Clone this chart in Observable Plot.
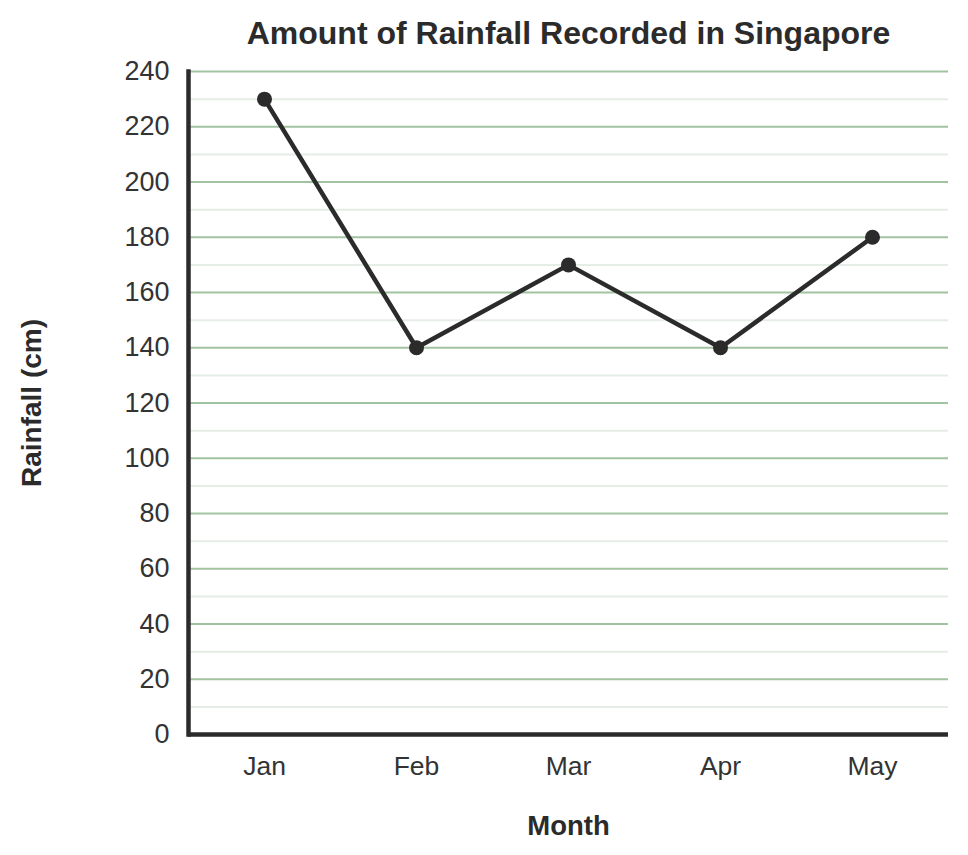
<!DOCTYPE html>
<html>
<head>
<meta charset="utf-8">
<script src="https://cdn.jsdelivr.net/npm/d3@7"></script>
<script src="https://cdn.jsdelivr.net/npm/@observablehq/plot@0.6"></script>
<style>
  html, body { margin: 0; padding: 0; background: #fff; }
  #chart svg { display: block; }
</style>
</head>
<body>
<div id="chart"></div>
<script>
const titleText = "Amount of Rainfall Recorded in Singapore";
const xLabel = "Month";
const yLabel = "Rainfall (cm)";
const months = ["Jan", "Feb", "Mar", "Apr", "May"];
const rainfall = [230, 140, 170, 140, 180];
const majorTicks = [0, 20, 40, 60, 80, 100, 120, 140, 160, 180, 200, 220, 240];
const minorTicks = [10, 30, 50, 70, 90, 110, 130, 150, 170, 190, 210, 230];

const data = months.map((m, i) => ({month: m, value: rainfall[i]}));
const ink = "#2b2b2b";
const font = "'Liberation Sans', Arial, sans-serif";

const chart = Plot.plot({
  width: 968,
  height: 855,
  marginLeft: 188,
  marginRight: 20,
  marginTop: 71,
  marginBottom: 121,
  style: {fontFamily: font, color: "#333", background: "#fff"},
  x: {type: "point", domain: months, padding: 0.5},
  y: {domain: [0, 240]},
  marks: [
    Plot.ruleY(minorTicks, {stroke: "#e6ede6", strokeWidth: 2}),
    Plot.ruleY(majorTicks.filter(d => d > 0), {stroke: "#a2c3a2", strokeWidth: 2}),
    Plot.axisY({ticks: majorTicks, tickSize: 0, tickPadding: 19, fontSize: 27, label: null, fill: "#333"}),
    Plot.axisX({tickSize: 0, tickPadding: 22, fontSize: 26.5, label: null, fill: "#333"}),
    Plot.frame({anchor: "left", stroke: ink, strokeWidth: 4.5}),
    Plot.ruleY([0], {stroke: ink, strokeWidth: 4.5}),
    Plot.line(data, {x: "month", y: "value", stroke: ink, strokeWidth: 4.5}),
    Plot.dot(data, {x: "month", y: "value", r: 7.5, fill: ink, stroke: "none"}),
    Plot.text([titleText], {frameAnchor: "top", lineAnchor: "middle", dy: -38, fontSize: 32, fontWeight: "bold", fill: ink}),
    Plot.text([yLabel], {frameAnchor: "left", textAnchor: "middle", lineAnchor: "middle", dx: -156, rotate: -90, fontSize: 28, fontWeight: "bold", fill: ink}),
    Plot.text([xLabel], {frameAnchor: "bottom", lineAnchor: "middle", dy: 92, fontSize: 27.5, fontWeight: "bold", fill: ink})
  ]
});
document.getElementById("chart").appendChild(chart);
</script>
</body>
</html>
